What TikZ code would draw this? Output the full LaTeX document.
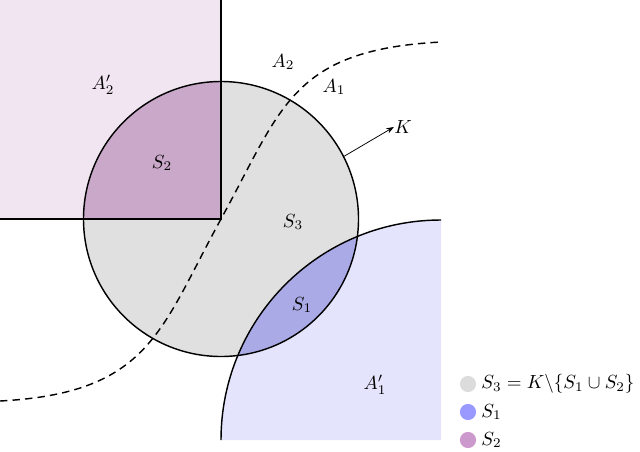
\documentclass[tikz,border=0pt]{standalone}
\usetikzlibrary{arrows.meta}
\definecolor{sqfill}{RGB}{241,229,242}
\definecolor{sTwo}{RGB}{201,168,201}
\definecolor{aOne}{RGB}{228,228,253}
\definecolor{sOne}{RGB}{170,170,230}
\definecolor{kgray}{RGB}{224,224,224}
\definecolor{legblue}{RGB}{153,153,255}
\definecolor{legviolet}{RGB}{204,153,204}
\definecolor{leggray}{RGB}{220,220,220}
\tikzset{
  edge/.style={line width=0.75pt, black},
  dashcurve/.style={line width=0.75pt, dash pattern=on 3.9pt off 2.7pt},
  lbl/.style={inner sep=0pt},
  legdot/.style={circle, inner sep=0pt, minimum size=8.5pt},
}
\begin{document}
\begin{tikzpicture}[x=0.526pt, y=-0.526pt, every node/.style={font=\fontsize{10.4pt}{12.5pt}\selectfont}]
\useasboundingbox (0,0) rectangle (640,451);
% fills
\fill[sqfill] (0,0) rectangle (221,219);
\fill[aOne] (221,440) arc[start angle=180, end angle=270, radius=220] -- (441,440) -- cycle;
\fill[kgray] (221,219) circle[radius=137.5];
\begin{scope}
  \clip (0,0) rectangle (221,219);
  \fill[sTwo] (221,219) circle[radius=137.5];
\end{scope}
\begin{scope}
  \clip (221,440) arc[start angle=180, end angle=270, radius=220] -- (441,440) -- cycle;
  \fill[sOne] (221,219) circle[radius=137.5];
\end{scope}
% strokes
\coordinate (ctr) at (221,219);
\node[circle, draw, edge, minimum size=275*0.526pt, inner sep=0pt] (K) at (ctr) {};
\draw[edge] (221,440) arc[start angle=180, end angle=270, radius=220];
\draw[edge] (221,0) -- (ctr) -- (0,219);
\coordinate (d0) at (0,401);
\coordinate (d2) at (441,42);
\draw[dashcurve] (d0) .. controls (150,393) and (160,330) .. (ctr) .. controls (282,108) and (291,50) .. (d2);
% labels
\node[lbl] (A2p) at (103,85) {$A_2'$};
\node[lbl] (S2) at (162,163) {$S_2$};
\node[lbl] (A2) at (283,62) {$A_2$};
\node[lbl] (A1) at (334,87) {$A_1$};
\node[lbl] (Klab) at (403,127) {$K$};
\node[lbl] (S3) at (293,222) {$S_3$};
\node[lbl] (S1) at (302,305) {$S_1$};
\node[lbl] (A1p) at (375,385) {$A_1'$};
\draw[-{Stealth[length=4pt,width=3pt]}, line width=0.4pt] (K.27) -- (Klab.west);
% legend
\node[legdot, fill=leggray] (L3) at (468,384) {};
\node[legdot, fill=legblue] (L1) at (468,412) {};
\node[legdot, fill=legviolet] (L2) at (468,440) {};
\node[anchor=west, inner sep=0pt] (T3) at (481,384) {$S_3 = K\backslash\{S_1\cup S_2\}$};
\node[anchor=west, inner sep=0pt] (T1) at (481,412) {$S_1$};
\node[anchor=west, inner sep=0pt] (T2) at (481,440) {$S_2$};
\end{tikzpicture}
\end{document}
